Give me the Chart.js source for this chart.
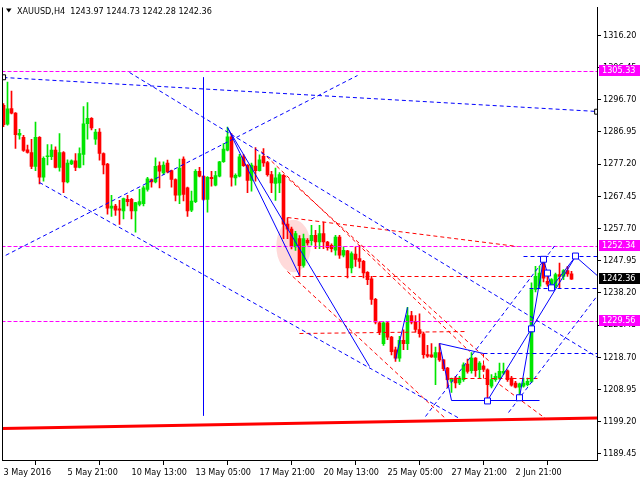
<!DOCTYPE html>
<html>
<head>
<meta charset="utf-8">
<script src="https://cdn.jsdelivr.net/npm/chart.js@4.4.1/dist/chart.umd.min.js"></script>
<style>
  html, body { margin: 0; padding: 0; background: #fff; }
</style>
</head>
<body>
<canvas id="chart" width="640" height="480"></canvas>
<script>
const symbol = 'XAUUSD,H4';
const xLabels = ['3 May 2016', '5 May 21:00', '10 May 13:00', '13 May 05:00', '17 May 21:00',
                 '20 May 13:00', '25 May 05:00', '27 May 21:00', '2 Jun 21:00'];
const xTickIdx = [0, 16, 32, 48, 64, 80, 96, 112, 128];
const yTicks = [1189.45, 1199.20, 1208.95, 1218.70, 1228.45, 1238.20, 1247.95, 1257.70,
                1267.45, 1277.20, 1286.95, 1296.70, 1306.45, 1316.20];

// H4 bars, oldest first
const opens = [1295.0,1289.3,1294.0,1292.6,1285.9,1285.3,1281.5,1280.7,1276.5,1285.3,
  1273.2,1279.4,1279.4,1281.4,1276.2,1280.7,1271.8,1277.2,1278.2,1276.2,
  1280.1,1289.4,1291.0,1284.7,1286.9,1280.4,1277.2,1263.8,1264.5,1263.6,
  1263.0,1266.5,1266.5,1263.0,1265.0,1265.2,1269.5,1272.5,1271.8,1276.7,
  1274.5,1277.5,1275.2,1272.5,1267.8,1278.7,1270.0,1263.2,1265.8,1275.0,
  1273.5,1266.5,1273.2,1270.8,1273.5,1277.9,1281.4,1285.4,1273.0,1273.5,
  1279.4,1276.9,1272.2,1276.6,1275.2,1279.5,1277.6,1274.0,1271.3,1271.5,
  1273.8,1259.0,1257.5,1252.1,1254.6,1246.5,1254.1,1254.0,1255.6,1253.6,
  1256.1,1253.6,1252.6,1251.1,1255.1,1249.6,1250.9,1245.7,1249.9,1248.6,
  1247.7,1244.4,1242.4,1236.2,1229.1,1222.8,1229.1,1224.8,1220.9,1218.4,
  1223.8,1222.8,1231.3,1229.5,1227.1,1225.8,1219.5,1219.4,1218.6,1220.1,
  1217.9,1215.4,1211.4,1212.4,1210.9,1211.9,1216.6,1214.6,1218.4,1214.9,
  1216.0,1214.9,1209.9,1211.9,1212.4,1213.9,1214.6,1212.4,1210.9,1209.6,
  1209.9,1210.4,1211.4,1239.2,1240.2,1247.2,1241.7,1240.2,1240.2,1243.7,
  1243.2,1244.9,1243.97];
const highs = [1295.5,1302.0,1299.3,1292.8,1287.7,1285.9,1282.9,1284.7,1289.9,1285.5,
  1279.4,1283.1,1283.1,1282.4,1286.4,1281.0,1278.5,1278.5,1280.4,1282.1,
  1294.6,1295.8,1291.3,1287.7,1287.9,1280.6,1277.4,1267.7,1265.0,1266.2,
  1266.9,1267.7,1266.8,1265.6,1269.5,1270.5,1273.2,1272.7,1279.1,1277.9,
  1277.9,1278.4,1275.4,1272.7,1278.7,1279.4,1270.2,1269.0,1275.5,1276.2,
  1273.8,1273.4,1275.0,1275.0,1278.0,1283.4,1288.4,1286.4,1274.2,1280.1,
  1280.1,1277.0,1277.5,1282.2,1280.0,1281.9,1278.0,1275.0,1276.0,1274.6,
  1274.0,1260.9,1258.1,1256.8,1255.5,1256.0,1254.6,1258.6,1257.1,1258.6,
  1259.6,1253.8,1253.0,1255.6,1255.6,1252.1,1251.1,1250.6,1252.1,1252.6,
  1248.0,1244.6,1243.2,1236.5,1229.5,1229.5,1229.5,1225.0,1221.8,1225.0,
  1227.0,1233.8,1232.6,1231.3,1231.8,1226.3,1222.3,1222.8,1221.8,1222.8,
  1218.0,1215.6,1212.4,1212.9,1212.9,1217.0,1218.1,1220.1,1218.6,1217.4,
  1216.4,1215.2,1213.4,1213.9,1216.9,1216.9,1214.9,1212.9,1211.4,1210.9,
  1212.4,1212.4,1241.2,1246.2,1246.2,1248.35,1244.2,1242.5,1244.2,1247.2,
  1245.2,1246.2,1244.73];
const lows = [1288.5,1289.0,1292.4,1281.9,1284.7,1281.0,1280.5,1275.8,1275.2,1271.2,
  1272.0,1276.9,1278.5,1276.0,1275.0,1268.5,1271.5,1277.0,1275.2,1276.0,
  1276.9,1284.7,1287.5,1283.1,1278.4,1274.2,1262.0,1261.3,1261.6,1258.9,
  1260.6,1264.5,1260.6,1256.6,1264.5,1264.5,1269.0,1270.2,1271.5,1270.0,
  1274.0,1274.5,1270.2,1266.0,1265.2,1266.0,1261.3,1262.8,1265.5,1273.3,
  1266.2,1262.6,1270.5,1270.6,1273.3,1277.7,1281.2,1270.5,1270.8,1273.3,
  1276.5,1268.5,1269.0,1272.0,1275.0,1276.5,1273.5,1268.5,1266.2,1268.5,
  1254.6,1254.6,1251.5,1251.0,1243.2,1246.0,1252.6,1252.6,1251.6,1251.6,
  1251.6,1251.1,1250.6,1249.6,1248.6,1249.1,1242.7,1244.2,1246.2,1245.7,
  1242.7,1240.7,1234.7,1228.8,1225.5,1222.3,1224.0,1219.4,1217.4,1217.4,
  1221.0,1221.0,1228.8,1226.3,1224.8,1218.4,1218.6,1218.6,1210.4,1217.4,
  1214.6,1209.4,1208.0,1209.4,1210.4,1211.4,1213.9,1213.9,1212.9,1212.5,
  1214.4,1205.45,1209.4,1211.4,1212.0,1213.4,1211.4,1209.9,1209.4,1206.2,
  1209.6,1210.0,1211.0,1238.5,1239.5,1241.5,1240.2,1239.7,1239.7,1239.7,
  1242.2,1243.2,1242.28];
const closes = [1289.1,1293.9,1292.6,1286.1,1286.5,1281.3,1280.7,1276.5,1285.3,1273.2,
  1278.9,1279.7,1281.4,1276.2,1280.7,1271.8,1277.5,1278.2,1276.2,1280.4,
  1289.4,1291.0,1288.1,1286.9,1280.4,1276.9,1263.8,1264.5,1263.2,1263.2,
  1266.7,1265.8,1263.0,1265.5,1265.8,1270.0,1272.7,1271.8,1276.5,1275.0,
  1276.9,1274.8,1272.5,1267.8,1276.0,1268.0,1263.0,1266.0,1275.0,1273.5,
  1266.5,1273.2,1272.8,1273.7,1277.9,1281.7,1285.4,1273.2,1273.8,1279.4,
  1276.7,1272.2,1276.9,1275.2,1278.5,1277.5,1274.0,1271.5,1273.0,1274.0,
  1259.0,1257.5,1252.5,1256.1,1246.4,1254.6,1253.3,1255.6,1253.6,1256.1,
  1253.6,1251.9,1251.6,1255.1,1249.6,1251.1,1245.7,1250.1,1248.3,1247.7,
  1244.2,1242.2,1236.2,1229.3,1226.3,1229.1,1224.8,1220.4,1218.4,1223.8,
  1222.8,1231.3,1229.3,1227.1,1225.8,1219.5,1219.0,1218.8,1220.1,1217.9,
  1215.2,1211.9,1212.0,1210.9,1212.4,1216.4,1214.4,1218.4,1214.6,1216.9,
  1215.0,1210.4,1211.9,1212.9,1214.4,1214.4,1211.9,1210.2,1209.6,1210.6,
  1210.9,1211.4,1239.2,1243.2,1244.2,1242.6,1240.8,1242.2,1243.7,1243.2,
  1244.9,1243.9,1242.36];

// drawn objects, as [bar index, price]
const blueDashed = [
  [[-0.1, 1303.47], [148.4, 1293.05]],
  [[31.6, 1304.97], [149.1, 1218.3]],
  [[-0.9, 1248.56], [88.4, 1303.98]],
  [[8.9, 1271.59], [114.1, 1200.08]],
  [[105.4, 1200.68], [138.3, 1253.12]],
  [[126.2, 1201.96], [148.4, 1237.24]],
  [[119.9, 1219.84], [148.4, 1219.84]],
  [[130.0, 1249.16], [148.4, 1249.16]],
  [[131.6, 1239.41], [148.4, 1239.41]]
];
const blueSolid = [
  [[49.95, 1303.27], [49.95, 1200.98]],
  [[55.9, 1288.28], [74.1, 1243.58]],
  [[55.9, 1288.28], [91.6, 1215.87]],
  [[97.9, 1217.96], [100.9, 1233.75]],
  [[109.1, 1222.73], [119.9, 1219.75]],
  [[109.1, 1222.73], [112.1, 1205.66]],
  [[112.1, 1205.66], [134.1, 1205.66]],
  [[121, 1205.45], [143, 1249.34]],
  [[129, 1206.43], [135, 1248.35]],
  [[135, 1248.35], [137, 1239.71], [143, 1249.34], [149.1, 1242.69]]
];
const pivots = [[121, 1205.45], [129, 1206.43], [132, 1227.29], [135, 1248.35],
                [136, 1244.18], [137, 1239.71], [143, 1249.34]];
const anchors = [[-0.1, 1303.47], [148.4, 1293.05]];
const redDashed = [
  [[70.9, 1260.87], [128.4, 1252.14]],
  [[72.9, 1243.29], [132.1, 1243.29]],
  [[74.1, 1226.0], [115.9, 1226.51]],
  [[111.6, 1212.39], [133.6, 1212.39]],
  [[119.9, 1219.75], [119.9, 1212.39]],
  [[64.6, 1281.13], [116.6, 1220.36]],
  [[69.9, 1274.0], [121.6, 1217.36]],
  [[71.1, 1244.78], [110.4, 1200.08]],
  [[124.1, 1210.51], [135.4, 1200.08]]
];
const support = [[-0.5, 1197.1], [149.1, 1200.3]];
const levels = [1305.33, 1252.34, 1229.56];
const zone = { from: 68.2, to: 76.8, low: 1244.4, high: 1260.3 };

const FONT = "'DejaVu Sans Condensed', 'Liberation Sans', sans-serif";
const UP = '#00e600', DOWN = '#ff0000';
const BLUE = '#0000ff', RED = '#ff0000', MAGENTA = '#ff00ff';

function seg(points, color, dash, width, order) {
  return {
    type: 'line',
    data: points.map(p => ({ x: p[0], y: p[1] })),
    borderColor: color,
    borderWidth: width,
    borderDash: dash,
    pointRadius: 0,
    fill: false,
    tension: 0,
    clip: 0,
    order: order
  };
}

function marks(points, color, r) {
  return {
    type: 'line',
    data: points.map(p => ({ x: p[0], y: p[1] })),
    showLine: false,
    pointStyle: 'rect',
    pointRadius: r,
    pointBorderColor: color,
    pointBackgroundColor: '#fff',
    pointBorderWidth: 1,
    clip: 0,
    order: 1
  };
}

const idx = opens.map((_, i) => i);
const colors = idx.map(i => closes[i] >= opens[i] ? UP : DOWN);

const datasets = [
  { type: 'bar', data: idx.map(i => ({ x: i, y: [lows[i], highs[i]] })),
    backgroundColor: colors, grouped: false, barThickness: 1, maxBarThickness: 1, order: 20 },
  { type: 'bar', data: idx.map(i => ({ x: i, y: [opens[i], closes[i]] })),
    backgroundColor: colors, grouped: false, barThickness: 3, maxBarThickness: 3,
    minBarLength: 1, order: 19 },
  seg(support, RED, [], 3, 10)
];
levels.forEach(v => datasets.push(seg([[-0.5, v], [149, v]], MAGENTA, [4, 2], 1, 8)));
redDashed.forEach(l => datasets.push(seg(l, RED, [4, 3], 1, 7)));
blueDashed.forEach(l => datasets.push(seg(l, BLUE, [4, 3], 1, 6)));
blueSolid.forEach(l => datasets.push(seg(l, BLUE, [], 1, 5)));
datasets.push(marks(pivots, BLUE, 4.2));
datasets.push(marks(anchors, '#000', 3.5));

// snap thin line vertices to pixel centres so flat lines stay sharp
const crisp = {
  id: 'crisp',
  afterDatasetsUpdate(chart) {
    chart.data.datasets.forEach((ds, i) => {
      if (ds.type !== 'line' || ds.borderWidth !== 1) return;
      chart.getDatasetMeta(i).data.forEach(pt => {
        pt.x = Math.floor(pt.x) + 0.5;
        pt.y = Math.floor(pt.y) + 0.5;
      });
    });
  }
};

const overlay = {
  id: 'overlay',
  beforeDatasetsDraw(chart) {
    const { ctx, chartArea: a, scales: { x, y } } = chart;
    const x1 = x.getPixelForValue(zone.from), x2 = x.getPixelForValue(zone.to);
    const y1 = y.getPixelForValue(zone.high), y2 = y.getPixelForValue(zone.low);
    ctx.save();
    ctx.beginPath();
    ctx.rect(a.left, a.top, a.right - a.left, a.bottom - a.top);
    ctx.clip();
    ctx.beginPath();
    ctx.ellipse((x1 + x2) / 2, (y1 + y2) / 2, (x2 - x1) / 2, (y2 - y1) / 2, 0, 0, Math.PI * 2);
    ctx.fillStyle = '#ffdada';
    ctx.fill();
    ctx.restore();
  },
  afterDraw(chart) {
    const { ctx, chartArea: a, scales: { y } } = chart;
    ctx.save();
    // left frame
    ctx.strokeStyle = '#000';
    ctx.lineWidth = 1;
    ctx.beginPath();
    ctx.moveTo(a.left + 0.5, a.top);
    ctx.lineTo(a.left + 0.5, a.bottom);
    ctx.stroke();

    // title
    const last = opens.length - 1;
    ctx.fillStyle = '#000';
    ctx.beginPath();
    ctx.moveTo(6, 8.5);
    ctx.lineTo(11.5, 8.5);
    ctx.lineTo(8.75, 12.5);
    ctx.closePath();
    ctx.fill();
    ctx.font = '9px ' + FONT;
    ctx.textBaseline = 'alphabetic';
    ctx.textAlign = 'left';
    ctx.fillText(symbol + '  ' + [opens[last], highs[last], lows[last], closes[last]]
      .map(v => v.toFixed(2)).join(' '), 17, 14);

    // price labels on the axis
    ctx.textBaseline = 'middle';
    const box = (v, bg) => {
      const py = Math.round(y.getPixelForValue(v));
      ctx.fillStyle = bg;
      ctx.fillRect(a.right + 2, py - 6, 41, 11);
      ctx.fillStyle = '#fff';
      ctx.fillText(v.toFixed(2), a.right + 5, py);
    };
    levels.forEach(v => box(v, MAGENTA));
    box(closes[last], '#000');
    ctx.restore();
  }
};

new Chart(document.getElementById('chart'), {
  type: 'bar',
  data: { datasets },
  options: {
    responsive: false,
    animation: false,
    devicePixelRatio: 1,
    events: [],
    layout: { autoPadding: false, padding: { left: 2, top: 0, right: 0, bottom: 0 } },
    plugins: { legend: { display: false }, tooltip: { enabled: false } },
    scales: {
      x: {
        type: 'linear',
        min: -0.375,
        max: 148.375,
        offset: false,
        afterBuildTicks: s => { s.ticks = xTickIdx.map(v => ({ value: v })); },
        afterFit: s => { s.height = 20; },
        grid: { display: true, drawOnChartArea: false, drawTicks: true, tickLength: 5, color: '#000' },
        border: { display: true, color: '#000' },
        ticks: {
          autoSkip: false, maxRotation: 0, align: 'start', padding: 2, color: '#000',
          font: { family: FONT, size: 9 },
          callback: (v, k) => xLabels[k]
        }
      },
      y: {
        type: 'linear',
        position: 'right',
        min: 1187.57,
        max: 1324.63,
        afterBuildTicks: s => { s.ticks = yTicks.map(v => ({ value: v })); },
        afterFit: s => { s.width = 43; },
        grid: { display: true, drawOnChartArea: false, drawTicks: true, tickLength: 4, color: '#000' },
        border: { display: true, color: '#000' },
        ticks: {
          padding: 2, color: '#000',
          font: { family: FONT, size: 9 },
          callback: v => v.toFixed(2)
        }
      }
    }
  },
  plugins: [crisp, overlay]
});
</script>
</body>
</html>
